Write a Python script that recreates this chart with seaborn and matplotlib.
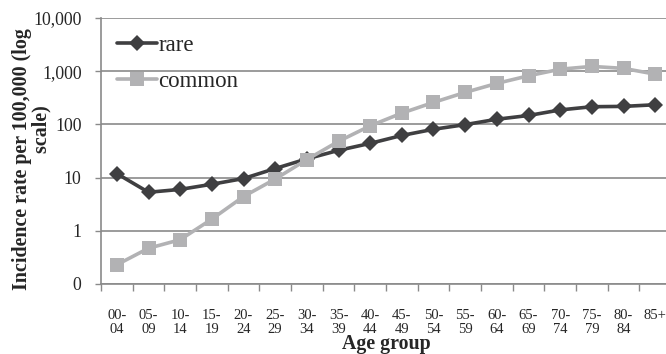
import matplotlib
matplotlib.use("Agg")
import matplotlib.pyplot as plt
import seaborn as sns
import pandas as pd
import numpy as np
from matplotlib.ticker import FixedLocator, NullFormatter

categories = ["00-\n04", "05-\n09", "10-\n14", "15-\n19", "20-\n24", "25-\n29", "30-\n34",
              "35-\n39", "40-\n44", "45-\n49", "50-\n54", "55-\n59", "60-\n64", "65-\n69",
              "70-\n74", "75-\n79", "80-\n84", "85+"]
rare = [11.9, 5.3, 6.0, 7.5, 9.6, 14.8, 22.5, 32.5, 44, 62, 81, 99, 125, 147, 187, 215, 218, 234]
common = [0.23, 0.47, 0.68, 1.66, 4.4, 9.4, 21.8, 48, 94, 163, 259, 400, 590, 820, 1090, 1230, 1130, 880]
ytick_vals = [0.1, 1, 10, 100, 1000, 10000]
ytick_labels = ["0", "1", "10", "100", "1,000", "10,000"]

sns.set_theme(style="white")
plt.rcParams['font.family'] = ['Liberation Serif', 'DejaVu Serif']

df = pd.DataFrame({
    "x": list(range(len(categories))) * 2,
    "value": rare + common,
    "series": ["rare"] * len(rare) + ["common"] * len(common),
})

fig = plt.figure(figsize=(6.66, 3.54), dpi=100)
ax = fig.add_axes([101 / 666, 1 - 284 / 354, (671 - 101) / 666, (284 - 18) / 354])

sns.lineplot(data=df, x="x", y="value", hue="series", style="series",
             markers={"rare": "D", "common": "s"}, dashes=False,
             palette={"rare": "#3f3f41", "common": "#b2b2b4"},
             linewidth=2.6, markersize=8.5, markeredgewidth=0, ax=ax, legend=True)
for line in ax.lines:
    if line.get_marker() == "s":
        line.set_markersize(10)

ax.set_yscale("log")
ax.set_ylim(0.1, 10000)
ax.set_xlim(-0.5, len(categories) - 0.5)

ax.yaxis.set_major_locator(FixedLocator(ytick_vals))
ax.set_yticklabels(ytick_labels)
ax.yaxis.set_minor_locator(FixedLocator([]))
ax.yaxis.grid(True, color="#8a8a8a", linewidth=1.2)
ax.set_axisbelow(True)

ax.set_xticks(range(len(categories)))
ax.set_xticklabels(categories, fontsize=10.5, linespacing=1.1)
ax.xaxis.set_minor_locator(FixedLocator(np.arange(-0.5, len(categories), 1.0)))
ax.xaxis.set_minor_formatter(NullFormatter())
ax.tick_params(axis="x", which="major", length=0, pad=18)
ax.tick_params(axis="x", which="minor", length=5, width=1.0, color="#8a8a8a", direction="out", bottom=True)
ax.tick_params(axis="y", which="major", length=4, width=1.0, color="#8a8a8a", direction="out", left=True,
               labelsize=12.8, pad=10)

for s in ["top", "right"]:
    ax.spines[s].set_visible(False)
for s in ["left", "bottom"]:
    ax.spines[s].set_color("#8a8a8a")
    ax.spines[s].set_linewidth(1.2)

ax.set_xlabel("Age group", fontsize=14.3, fontweight="bold", labelpad=-1.5)
ax.set_ylabel("Incidence rate per 100,000 (log\n            scale)", fontsize=14.4, fontweight="bold",
              linespacing=1.0)
ax.yaxis.set_label_coords(-0.086, 0.47)

leg = ax.legend(loc="upper left", bbox_to_anchor=(0.028, 0.935), frameon=False, fontsize=16.5,
                handlelength=1.75, handletextpad=0.05, borderaxespad=0.0, borderpad=0.0,
                labelspacing=0.64)

fig.savefig("out.png", dpi=100)
